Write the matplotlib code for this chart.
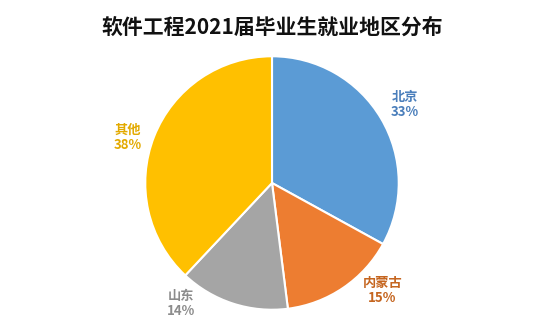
import matplotlib
matplotlib.use("Agg")
from matplotlib import pyplot as plt

plt.rcParams['font.family'] = ['Noto Sans CJK SC', 'DejaVu Sans']

regions = ['北京', '内蒙古', '山东', '其他']
shares = [33, 15, 14, 38]
colors = ['#5B9BD5', '#ED7D31', '#A5A5A5', '#FFC000']
label_colors = ['#4A7EBB', '#C5651F', '#8C8C8C', '#E3AA00']
# label anchor positions in pie radius units
label_pos = [(1.05, 0.62), (0.87, -0.85), (-0.72, -0.95), (-1.14, 0.36)]

W, H = 545, 324
fig = plt.figure(figsize=(W / 100, H / 100), dpi=100)
cx, cy, r = 272, 183, 128
ax = fig.add_axes([(cx - r) / W, (H - cy - r) / H, 2 * r / W, 2 * r / H])

ax.pie(shares, colors=colors, startangle=90, counterclock=False, radius=1,
       wedgeprops=dict(edgecolor='white', linewidth=1.5))
ax.set_xlim(-1.01, 1.01)
ax.set_ylim(-1.01, 1.01)

for name, v, c, (x, y) in zip(regions, shares, label_colors, label_pos):
    ax.text(x, y, f'{name}\n{v}%', color=c, fontsize=9.5, fontweight='bold',
            ha='center', va='center', linespacing=1.1, clip_on=False)

fig.text(0.5, 1 - 27 / H, '软件工程2021届毕业生就业地区分布', ha='center', va='center',
         fontsize=15, fontweight='bold', color='#111111')

fig.savefig('out.png', dpi=100)
